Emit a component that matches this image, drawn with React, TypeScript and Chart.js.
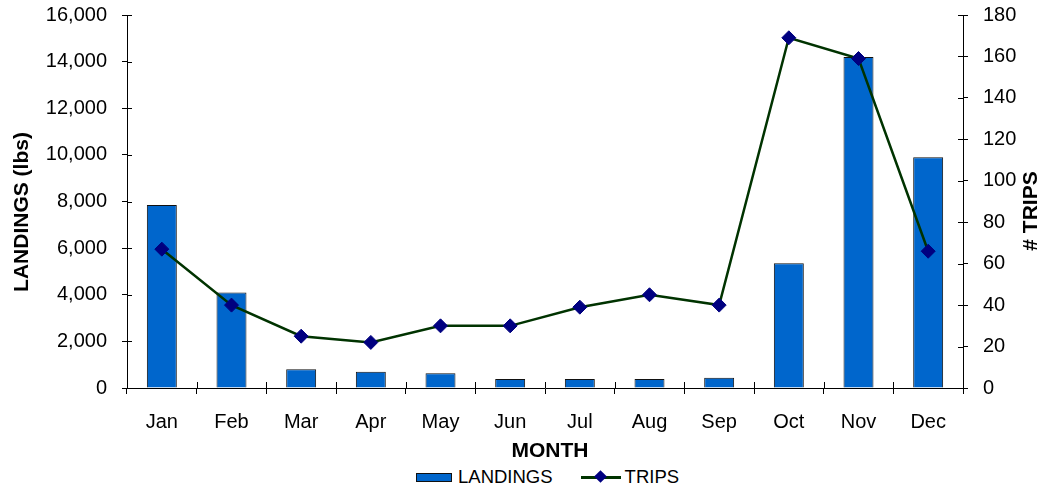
import React, { useEffect, useRef } from 'react';
import { Chart, registerables } from 'chart.js';

Chart.register(...registerables);

const months = ['Jan', 'Feb', 'Mar', 'Apr', 'May', 'Jun', 'Jul', 'Aug', 'Sep', 'Oct', 'Nov', 'Dec'];
const landings = [7850, 4100, 800, 700, 630, 390, 390, 390, 440, 5350, 14200, 9900];
const trips = [67, 40, 25, 22, 30, 30, 39, 45, 40, 169, 159, 66];
const xTitle = 'MONTH';
const leftTitle = 'LANDINGS (lbs)';
const rightTitle = '# TRIPS';

const FONT = "'Liberation Sans', Arial, sans-serif";
const BAR_COLOR = '#0066CC';
const LINE_COLOR = '#003300';
const POINT_COLOR = '#000080';

const axisExtras = {
  id: 'axisExtras',
  afterDraw(chart: any) {
    const { ctx, chartArea, scales } = chart;
    const { left, right, bottom } = chartArea;
    ctx.save();
    ctx.strokeStyle = '#000';
    ctx.lineWidth = 1;
    ctx.beginPath();
    scales.y.ticks.forEach((t: any) => {
      const y = Math.round(scales.y.getPixelForValue(t.value)) + 0.5;
      ctx.moveTo(left, y);
      ctx.lineTo(left + 5, y);
    });
    scales.y1.ticks.forEach((t: any) => {
      const y = Math.round(scales.y1.getPixelForValue(t.value)) + 0.5;
      ctx.moveTo(right - 5, y);
      ctx.lineTo(right, y);
    });
    const n = months.length;
    for (let i = 0; i <= n; i++) {
      const x = Math.round(left + (i * (right - left)) / n) + 0.5;
      ctx.moveTo(x, bottom - 6);
      ctx.lineTo(x, bottom);
    }
    ctx.stroke();

    ctx.font = `bold 21px ${FONT}`;
    ctx.fillStyle = '#000';
    ctx.textAlign = 'center';
    ctx.textBaseline = 'middle';
    ctx.fillText(xTitle, 550, 451);

    ctx.save();
    ctx.translate(22.5, 212);
    ctx.rotate(-Math.PI / 2);
    ctx.fillText(leftTitle, 0, 0);
    ctx.restore();

    ctx.save();
    ctx.translate(1031, 211);
    ctx.rotate(-Math.PI / 2);
    ctx.fillText(rightTitle, 0, 0);
    ctx.restore();

    ctx.restore();
  },
};

export default function App() {
  const canvasRef = useRef<HTMLCanvasElement | null>(null);

  useEffect(() => {
    const canvas = canvasRef.current;
    if (!canvas) return;
    const chart = new Chart(canvas, {
      type: 'bar',
      data: {
        labels: months,
        datasets: [
          {
            type: 'line',
            label: 'TRIPS',
            data: trips,
            yAxisID: 'y1',
            borderColor: LINE_COLOR,
            borderWidth: 2.5,
            pointStyle: 'rectRot',
            pointRadius: 7,
            pointBackgroundColor: POINT_COLOR,
            pointBorderColor: POINT_COLOR,
            pointBorderWidth: 1,
            tension: 0,
            order: 0,
          } as any,
          {
            type: 'bar',
            label: 'LANDINGS',
            data: landings,
            yAxisID: 'y',
            backgroundColor: BAR_COLOR,
            borderColor: '#111',
            borderWidth: 1,
            categoryPercentage: 1,
            barPercentage: 0.43,
            order: 1,
          },
        ],
      },
      options: {
        responsive: false,
        animation: false,
        layout: { padding: { top: 0, left: 0, right: 0, bottom: 0 } },
        plugins: {
          legend: { display: false },
          tooltip: { enabled: false },
        },
        scales: {
          x: {
            grid: { display: true, drawOnChartArea: false, tickLength: 6, color: '#000' },
            border: { display: true, color: '#000', width: 1 },
            ticks: { color: '#000', font: { family: FONT, size: 20 }, padding: 16, maxRotation: 0 },
            afterFit: (scale: any) => {
              scale.height = 78;
            },
          },
          y: {
            position: 'left',
            min: 0,
            max: 16000,
            grid: { display: true, drawOnChartArea: false, tickLength: 5, color: '#000' },
            border: { display: true, color: '#000', width: 1 },
            ticks: {
              stepSize: 2000,
              color: '#000',
              font: { family: FONT, size: 20 },
              padding: 15,
              callback: (v: any) => Number(v).toLocaleString('en-US'),
            },
            afterFit: (scale: any) => {
              scale.width = 127;
              scale.paddingTop = 15;
              scale.paddingBottom = 12;
            },
          },
          y1: {
            position: 'right',
            min: 0,
            max: 180,
            grid: { display: true, drawOnChartArea: false, tickLength: 5, color: '#000' },
            border: { display: true, color: '#000', width: 1 },
            ticks: { stepSize: 20, color: '#000', font: { family: FONT, size: 20 }, padding: 15 },
            afterFit: (scale: any) => {
              scale.width = 80;
              scale.paddingTop = 15;
              scale.paddingBottom = 12;
            },
          },
        },
      },
      plugins: [axisExtras],
    });
    return () => chart.destroy();
  }, []);

  const textStyle: React.CSSProperties = {
    fontFamily: FONT,
    fontSize: '18.5px',
    color: '#000',
    lineHeight: '22px',
    whiteSpace: 'nowrap',
  };

  return (
    <div style={{ position: 'absolute', left: 0, top: 0, width: 1043, height: 489, background: '#fff' }}>
      <canvas ref={canvasRef} width={1043} height={466} style={{ display: 'block' }} />
      <div
        style={{
          position: 'absolute',
          left: 416,
          top: 466,
          height: 22,
          display: 'flex',
          alignItems: 'center',
        }}
      >
        <div
          style={{
            width: 34,
            height: 7,
            background: BAR_COLOR,
            border: '1px solid #111',
            marginRight: 6,
          }}
        />
        <span style={textStyle}>LANDINGS</span>
        <div style={{ position: 'relative', width: 40, height: 14, marginLeft: 28, marginRight: 4 }}>
          <div
            style={{
              position: 'absolute',
              left: 0,
              right: 0,
              top: 6,
              height: 2.5,
              background: LINE_COLOR,
            }}
          />
          <div
            style={{
              position: 'absolute',
              left: 15,
              top: 2,
              width: 9,
              height: 9,
              background: POINT_COLOR,
              transform: 'rotate(45deg)',
            }}
          />
        </div>
        <span style={textStyle}>TRIPS</span>
      </div>
    </div>
  );
}
